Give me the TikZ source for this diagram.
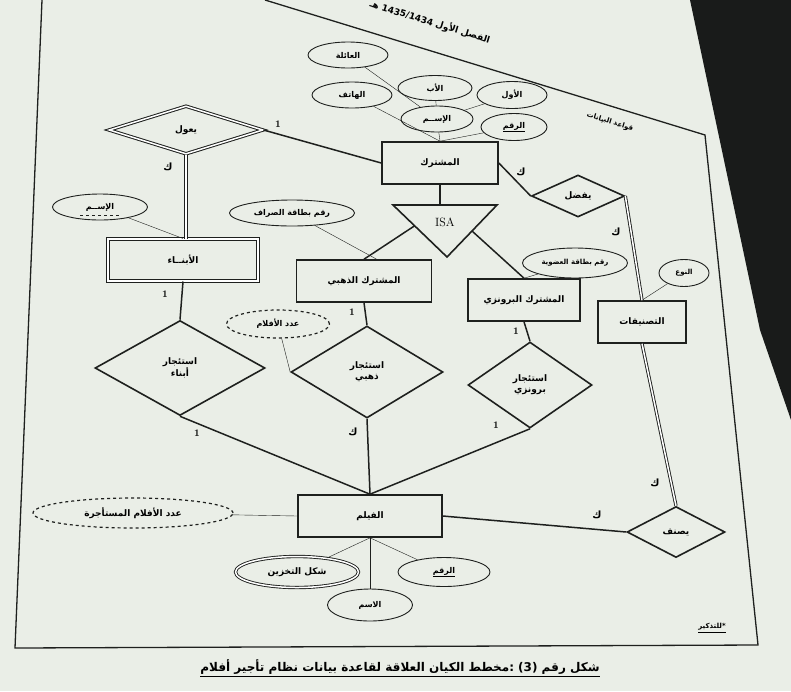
\documentclass[tikz,border=0pt]{standalone}
\usepackage{fontspec}
\usepackage{tikz}
\usetikzlibrary{shapes,positioning,calc}
\newfontfamily\arabicfont[Script=Arabic]{DejaVu Sans}
\TeXXeTstate=1
\newcommand{\artxt}[1]{{\arabicfont\beginR #1\endR}}

\definecolor{paper}{RGB}{234,238,231}
\definecolor{backdrop}{RGB}{25,27,26}
\definecolor{ink}{RGB}{30,32,30}

\tikzset{
  entity/.style={draw=ink, line width=1.6pt, rectangle, minimum width=#1, minimum height=42, inner sep=2pt},
  weakentity/.style={entity=#1, line width=1pt, double, double distance=2pt},
  rel/.style 2 args={draw=ink, line width=1.6pt, diamond, minimum width=#1, minimum height=#2, inner sep=0pt},
  attrib/.style 2 args={draw=ink, line width=0.9pt, ellipse, minimum width=#1, minimum height=#2, inner sep=0pt, font=\footnotesize\bfseries},
  derived/.style 2 args={attrib={#1}{#2}, dashed, line width=1.2pt},
  multi/.style 2 args={attrib={#1}{#2}, double, double distance=1.5pt},
  card/.style={font=\normalsize\bfseries},
  link/.style={draw=ink, line width=1.5pt},
  total/.style={draw=ink, line width=0.9pt, double, double distance=1.5pt}
}

\begin{document}
\begin{tikzpicture}[x=1pt, y=-1pt, font=\small\bfseries]
    \useasboundingbox (0,0) rectangle (791,691);
    \fill[paper] (0,0) rectangle (791,691);
    \fill[backdrop] (690,0) -- (791,0) -- (791,420) -- (760,330) -- cycle;

    % page frame
    \draw[ink, line width=1.3pt] (265,0) -- (705,135) -- (758,645) -- (15,648) -- (42,0);
    \node[rotate=-17] (hdr) at (430,22) {\artxt{الفصل الأول \beginL 1435/1434\endL{} هـ}};
    \node[rotate=-17, font=\scriptsize\bfseries] (crs) at (610,122) {\artxt{قواعد البيانات}};

    % entities
    \node[entity=116] (msh) at (440,163) {\artxt{المشترك}};
    \node[weakentity=150] (abna) at (183,260) {\artxt{الأبنــاء}};
    \node[entity=135] (dhb) at (364,281) {\artxt{المشترك الذهبي}};
    \node[entity=112] (brz) at (524,300) {\artxt{المشترك البرونزي}};
    \node[entity=88] (tsn) at (642,322) {\artxt{التصنيفات}};
    \node[entity=144] (flm) at (370,516) {\artxt{الفيلم}};

    % ISA
    \coordinate (isaL) at (393,205);
    \coordinate (isaR) at (497,205);
    \coordinate (isaB) at (447,257);
    \draw[ink, line width=1.6pt] (isaL) -- (isaR) -- (isaB) -- cycle;
    \node[font=\large] (isa) at (445,222) {ISA};

    % relationships
    \node[rel={154}{48}, line width=1pt, double, double distance=1.5pt] (yaool) at (186,130) {\artxt{يعول}};
    \node[rel={93}{42}] (yfdl) at (578,196) {\artxt{يفضل}};
    \node[rel={98}{51}] (ysnf) at (676,532) {\artxt{يصنف}};
    \node[rel={170}{95}, align=center] (rabna) at (180,368) {\artxt{استئجار}\\\artxt{أبناء}};
    \node[rel={152}{92}, align=center] (rdhb) at (367,372) {\artxt{استئجار}\\\artxt{ذهبي}};
    \node[rel={124}{86}, align=center] (rbrz) at (530,385) {\artxt{استئجار}\\\artxt{برونزي}};

    % attributes of the subscriber
    \node[attrib={80}{26}] (aila) at (348,55) {\artxt{العائلة}};
    \node[attrib={80}{26}] (hatif) at (352,95) {\artxt{الهاتف}};
    \node[attrib={74}{25}] (ab) at (435,88) {\artxt{الأب}};
    \node[attrib={70}{27}] (awal) at (512,95) {\artxt{الأول}};
    \node[attrib={72}{26}] (ism) at (437,119) {\artxt{الإســم}};
    \node[attrib={66}{27}] (rqm) at (514,127) {\underline{\artxt{الرقم}}};
    \draw[ink] (aila) -- (ism);
    \draw[ink] (ab) -- (ism);
    \draw[ink] (awal) -- (ism);
    \draw[ink] (ism) -- (msh.north);
    \draw[ink] (hatif) -- (msh.north);
    \draw[ink] (rqm) -- (msh.north);

    % other attributes
    \node[attrib={95}{26}] (ismb) at (100,207) {\artxt{الإســم}};
    \draw[ink, dashed] ($(ismb.center)+(-20,8)$) -- ($(ismb.center)+(20,8)$);
    \draw[ink] (ismb) -- (abna.north);
    \node[attrib={125}{26}] (sraf) at (292,213) {\artxt{رقم بطاقة الصراف}};
    \draw[ink] (sraf) -- (dhb.60);
    \node[attrib={105}{30}, font=\scriptsize\bfseries] (udw) at (575,263) {\artxt{رقم بطاقة العضوية}};
    \draw[ink] (udw) -- (brz.north);
    \node[attrib={50}{27}, font=\scriptsize\bfseries] (naw) at (684,273) {\artxt{النوع}};
    \draw[ink] (naw) -- (tsn.north);
    \node[derived={103}{28}] (afl) at (278,324) {\artxt{عدد الأفلام}};
    \draw[ink] (afl) -- (rdhb.west);

    % attributes of the film
    \node[derived={200}{30}, font=\small\bfseries] (aflm) at (133,513) {\artxt{عدد الأفلام المستأجرة}};
    \node[multi={123}{31}, font=\small\bfseries] (shkl) at (297,572) {\artxt{شكل التخزين}};
    \node[attrib={85}{32}] (ismf) at (370,605) {\artxt{الاسم}};
    \node[attrib={92}{29}] (rqmf) at (444,572) {\underline{\artxt{الرقم}}};
    \draw[ink] (aflm) -- (flm.west);
    \draw[ink] (flm.south) -- (shkl);
    \draw[ink] (flm.south) -- (ismf);
    \draw[ink] (flm.south) -- (rqmf);

    % connectors
    \draw[link] (msh.west) -- (yaool.east);
    \node[card] at (278,124) {1};
    \draw[total] (yaool.south) -- (yaool.south |- abna.north);
    \node[card] at (168,167) {\artxt{ك}};

    \draw[link] (msh.south) -- (msh.south |- isaL);
    \draw[link] ($(isaL)!0.4!(isaB)$) -- (dhb.north);
    \draw[link] ($(isaR)!0.5!(isaB)$) -- (brz.north);

    \draw[link] (abna.south) -- (rabna.north);
    \node[card] at (165,294) {1};
    \draw[link] (rabna.south) -- (flm.north);
    \node[card] at (197,433) {1};

    \draw[link] (dhb.south) -- (rdhb.north);
    \node[card] at (352,312) {1};
    \draw[link] (rdhb.south) -- (flm.north);
    \node[card] at (353,432) {\artxt{ك}};

    \draw[link] (brz.south) -- (rbrz.north);
    \node[card] at (516,331) {1};
    \draw[link] (rbrz.south) -- (flm.north);
    \node[card] at (496,425) {1};

    \draw[link] (msh.east) -- (yfdl.west);
    \node[card] at (521,172) {\artxt{ك}};
    \draw[total] (yfdl.east) -- (tsn.north);
    \node[card] at (616,232) {\artxt{ك}};
    \draw[total] (tsn.south) -- (ysnf.north);
    \node[card] at (655,483) {\artxt{ك}};
    \draw[link] (flm.east) -- (ysnf.west);
    \node[card] at (597,515) {\artxt{ك}};

    % notes
    \node[font=\scriptsize\bfseries] (note) at (712,628) {\underline{\artxt{*للتذكير}}};
    \node[font=\large\bfseries] (cap) at (400,668) {\underline{\artxt{شكل رقم (3) :مخطط الكيان العلاقة لقاعدة بيانات نظام تأجير أفلام}}};
\end{tikzpicture}
\end{document}
